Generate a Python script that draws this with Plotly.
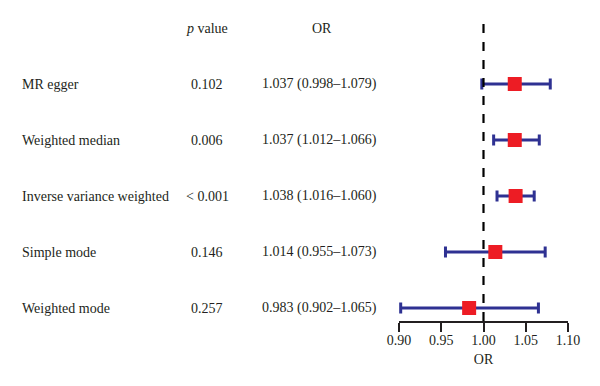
import plotly.graph_objects as go

methods = ["MR egger", "Weighted median", "Inverse variance weighted", "Simple mode", "Weighted mode"]
p_values = ["0.102", "0.006", "< 0.001", "0.146", "0.257"]
or_est = [1.037, 1.037, 1.038, 1.014, 0.983]
ci_low = [0.998, 1.012, 1.016, 0.955, 0.902]
ci_high = [1.079, 1.066, 1.060, 1.073, 1.065]
or_text = ["1.037 (0.998–1.079)", "1.037 (1.012–1.066)", "1.038 (1.016–1.060)",
           "1.014 (0.955–1.073)", "0.983 (0.902–1.065)"]
tick_vals = [0.90, 0.95, 1.00, 1.05, 1.10]
tick_text = ["0.90", "0.95", "1.00", "1.05", "1.10"]

W, H = 600, 386
OFF = 8  # page body margin
FONT = "Liberation Serif"
TXT = "#231f20"
n = len(methods)
rows = [n - i for i in range(n)]

def px(x):
    return (x - OFF) / W

fig = go.Figure()
fig.add_trace(go.Scatter(
    x=or_est, y=rows, mode="markers",
    marker=dict(symbol="square", size=14, color="#ed1c24", line=dict(width=0)),
    error_x=dict(type="data", symmetric=False,
                 array=[h - e for h, e in zip(ci_high, or_est)],
                 arrayminus=[e - l for e, l in zip(or_est, ci_low)],
                 color="#2e3192", thickness=3, width=5.5),
    cliponaxis=False, showlegend=False, hoverinfo="skip"))

fig.add_shape(type="line", x0=1.0, x1=1.0, y0=0.768, y1=6.14, xref="x", yref="y",
              line=dict(color="black", width=2.2, dash="dash"))

ann = []
def txt(x, y, s, anchor="left"):
    ann.append(dict(x=px(x), y=y, xref="paper", yref="y", text=s, showarrow=False,
                    xanchor=anchor, yanchor="middle",
                    font=dict(family=FONT, size=14, color=TXT)))

txt(207, 6.0, "<i>p</i> value", "center")
txt(322, 6.0, "OR", "center")
for r, m, p, o in zip(rows, methods, p_values, or_text):
    txt(20, r, m)
    txt(207, r, p, "center")
    txt(319, r, o, "center")

fig.update_layout(
    width=W, height=H, margin=dict(l=0, r=0, t=0, b=0, autoexpand=False),
    paper_bgcolor="white", plot_bgcolor="white",
    annotations=ann,
    xaxis=dict(domain=[px(399), px(568)], range=[0.90, 1.10],
               tickvals=tick_vals, ticktext=tick_text,
               ticks="outside", ticklen=9, tickwidth=1.5, tickcolor=TXT,
               ticklabelstandoff=-4,
               showline=True, linecolor=TXT, linewidth=1.5,
               showgrid=False, zeroline=False, automargin=False,
               tickfont=dict(family=FONT, size=14, color=TXT),
               title=dict(text="OR", font=dict(family=FONT, size=14, color=TXT), standoff=8)),
    yaxis=dict(domain=[(H - 321 + OFF) / H, (H - 20 + OFF) / H], range=[0.768, 6.143],
               visible=False, showgrid=False, zeroline=False),
)
fig.write_html("out.html")
